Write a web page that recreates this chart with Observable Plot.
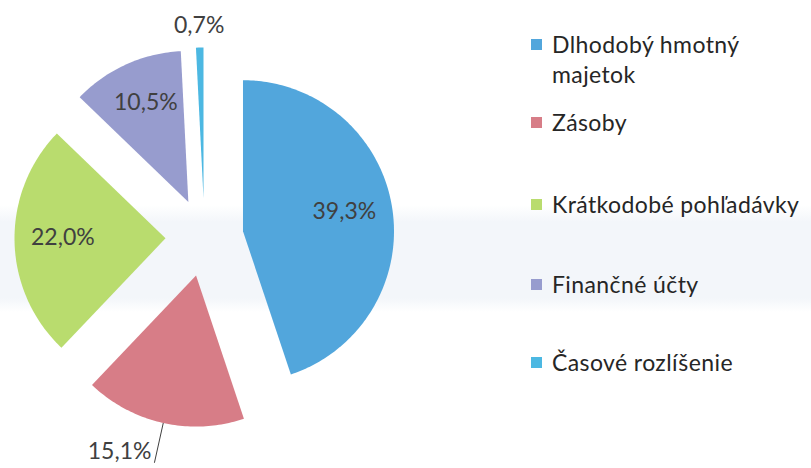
<!DOCTYPE html>
<html>
<head>
<meta charset="utf-8">
<script src="https://cdn.jsdelivr.net/npm/d3@7"></script>
<script src="https://cdn.jsdelivr.net/npm/@observablehq/plot@0.6"></script>
<style>
  body { margin: 0; background: #fff; }
  #wrap {
    position: relative; width: 811px; height: 468px; overflow: hidden;
    background: linear-gradient(to bottom, #fff 0px, #fff 205px, #f3f6fa 222px, #f3f6fa 298px, #fff 312px, #fff 468px);
    font-family: Lato, "Open Sans", sans-serif;
  }
  #chart { position: absolute; left: 0; top: 0; }
  .leg { position: absolute; left: 531px; display: flex; align-items: flex-start;
         font-size: 23px; line-height: 30px; letter-spacing: 0.4px; color: #262626; }
  .sw { width: 11px; height: 11px; margin-top: 10px; margin-right: 10px; flex: none; }
  .txt { white-space: nowrap; }
  .wrapTxt { white-space: normal; width: 215px; }
</style>
</head>
<body>
<div id="wrap">
  <div id="chart"></div>
  <div id="legend"></div>
</div>
<script>
// ---- data ----
const categories = ["Dlhodobý hmotný majetok", "Zásoby", "Krátkodobé pohľadávky", "Finančné účty", "Časové rozlíšenie"];
const values = [39.3, 15.1, 22.0, 10.5, 0.7];
const labels = ["39,3%", "15,1%", "22,0%", "10,5%", "0,7%"];
const colors = ["#52a6dc", "#d77d87", "#b9dc6e", "#979cce", "#4cb8e2"];
const labelPlacement = ["inside", "leader", "inside", "inside", "outside"];

// ---- geometry (pixels) ----
const W = 811, H = 468;
const R = 151, CX = 204, CY = 237;
const EXPL = 39 / R;

const arcs = d3.pie().sort(null).value(d => d)(values);

const slicePts = [];
const labelPts = [];
const leaderLines = [];
arcs.forEach((a, i) => {
  const cat = categories[i];
  const mid = (a.startAngle + a.endAngle) / 2;
  const ox = EXPL * Math.sin(mid), oy = EXPL * Math.cos(mid);
  slicePts.push({cat, x: ox, y: oy});
  const n = Math.max(2, Math.ceil((a.endAngle - a.startAngle) / (Math.PI / 180)));
  for (let k = 0; k <= n; k++) {
    const t = a.startAngle + (a.endAngle - a.startAngle) * k / n;
    slicePts.push({cat, x: ox + Math.sin(t), y: oy + Math.cos(t)});
  }
  slicePts.push({cat, x: ox, y: oy});

  const ux = Math.sin(mid), uy = Math.cos(mid);
  const place = labelPlacement[i];
  if (place === "inside") {
    labelPts.push({text: labels[i], x: ox + 0.68 * ux, y: oy + 0.70 * uy + 0.02, anchor: "middle"});
  } else if (place === "outside") {
    labelPts.push({text: labels[i], x: ox + 1.146 * ux, y: oy + 1.146 * uy, anchor: "middle"});
  } else {
    const x1 = ox + ux, y1 = oy + uy;
    const x2 = ox + 1.27 * ux, y2 = oy + 1.27 * uy;
    leaderLines.push({x1, y1, x2, y2});
    labelPts.push({text: labels[i], x: x2 - 3 / R, y: y2 + 11 / R, anchor: "end"});
  }
});

const chart = Plot.plot({
  width: W, height: H, margin: 0,
  x: {domain: [-CX / R, (W - CX) / R], axis: null},
  y: {domain: [-(H - CY) / R, CY / R], axis: null},
  color: {domain: categories, range: colors},
  style: {background: "transparent", fontFamily: "Lato, 'Open Sans', sans-serif"},
  marks: [
    Plot.line(slicePts, {x: "x", y: "y", z: "cat", fill: "cat", stroke: "none", curve: "linear"}),
    Plot.link(leaderLines, {x1: "x1", y1: "y1", x2: "x2", y2: "y2", stroke: "#404040", strokeWidth: 1}),
    Plot.text(labelPts.filter(d => d.anchor === "middle"), {x: "x", y: "y", text: "text", fill: "#404040", fontSize: 23, textAnchor: "middle"}),
    Plot.text(labelPts.filter(d => d.anchor === "end"), {x: "x", y: "y", text: "text", fill: "#404040", fontSize: 23, textAnchor: "end"})
  ]
});
document.getElementById("chart").appendChild(chart);

// ---- legend ----
const legendTops = [29, 107, 189, 269, 347];
const legend = document.getElementById("legend");
categories.forEach((c, i) => {
  const item = document.createElement("div");
  item.className = "leg";
  item.style.top = legendTops[i] + "px";
  const sw = document.createElement("div");
  sw.className = "sw";
  sw.style.background = colors[i];
  const t = document.createElement("div");
  t.className = i === 0 ? "wrapTxt" : "txt";
  t.textContent = c;
  item.appendChild(sw);
  item.appendChild(t);
  legend.appendChild(item);
});
</script>
</body>
</html>
